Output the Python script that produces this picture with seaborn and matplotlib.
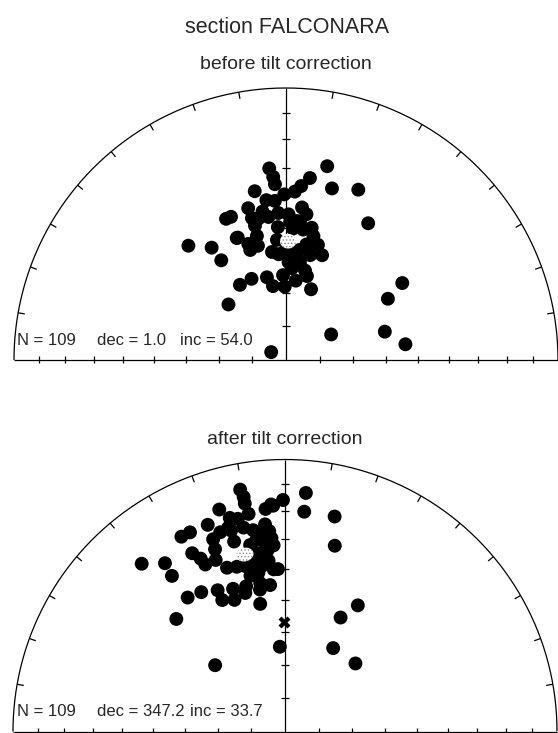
import numpy as np
import pandas as pd
import matplotlib
matplotlib.use('Agg')
import matplotlib.pyplot as plt
import seaborn as sns

sns.set_style('white')
plt.rcParams['font.family'] = ['Liberation Sans', 'DejaVu Sans']
plt.rcParams['hatch.linewidth'] = 0.6

# site mean directions (declination / inclination, degrees)
dec_before = [355, 356, 356.4, 12, 7.5, 5, 3, 15, 23, 349.5, 359.4, 353, 356, 346, 6, 8,
              339, 337, 31, 319.5, 326.5, 327, 338, 342, 342, 19, 328.5, 337, 347, 350,
              358, 359, 7, 14, 19.5, 314, 56.5, 59, 74, 60.5, 82.5, 298, 349, 353, 357,
              1, 4.5, 347, 346.8, 346.2, 352.6, 7.5, 11, 12.5, 10, 13, 4, 1.5, 7, 12,
              338.5, 356.5, 3, 356, 359.5, 351, 3.7, 7, 355.7,
              1.7, 5.8, 15.5, 8.1, 346.5]
inc_before = [30, 33, 35.5, 28, 33, 36, 38, 35, 32.5, 37, 39, 40.5, 41, 42, 43, 45,
              43, 43, 41, 44, 49, 54, 50, 53, 55, 56.5, 63.5, 63.5, 64.5, 67.5,
              64.5, 68, 66, 64, 67.5, 66, 47.5, 54, 59, 74.5, 53.5, 85, 46, 46, 45,
              45.5, 47.5, 48, 51.3, 54.4, 57.1, 50, 49, 51.5, 54.5, 57.5, 57.5, 60.5, 60, 62.5,
              50, 49.5, 50, 58, 57, 44, 62.3, 56.5, 53.5,
              47.9, 47.7, 53.8, 60.2, 45.4]

dec_after = [5, 359.5, 357, 5, 13, 15, 30, 26, 30, 46, 356.5, 357.5, 356, 356.5, 355.5,
             349.5, 350, 350, 356.5, 355, 343.5, 350.5, 345.5, 347.5, 339.5, 354.5,
             334.5, 332, 332.5, 334, 334.5, 319.5, 324.5, 324, 324, 329, 334.5, 334.5,
             340, 339, 344, 350, 349, 316, 313.5,
             342, 345, 348.5, 351, 353.5, 339.5, 339, 338, 340.5, 343.7, 346.5, 349,
             352.5, 354.5, 354, 351.5, 345, 350.5, 350.5, 347.5, 345, 354.5, 356,
             352, 354.5, 349.4, 344.4, 354.2, 350.8]
inc_after = [13, 16, 18, 20, 20, 30, 45.5, 51.5, 61, 60.5, 64.5, 40, 40, 32, 27,
             10.5, 13.5, 16, 17.5, 19, 16, 20, 20, 21, 20, 24.5,
             20, 20, 27, 30, 32.5, 20, 25, 30, 39, 40, 42, 45.5,
             43.5, 47, 46, 46, 50.5, 42, 61,
             24, 24.5, 24.5, 26, 27.5, 25.5, 29, 32.5, 36.3, 37, 37.5, 37,
             35.5, 33.5, 31, 29.5, 28.5, 40.5, 44, 41, 44, 28.5, 29.5,
             38.5, 37, 30.9, 23.3, 45, 33.9]

n_sites = 109
mean_before = (1.0, 54.0)
mean_after = (347.2, 33.7)
a95 = 2.3
cross_after = (359.5, 57.0)


def eqarea(dec, inc):
    d = np.radians(np.asarray(dec, float))
    r = np.sqrt(2) * np.sin(np.radians(90 - np.asarray(inc, float)) / 2)
    return r * np.sin(d), r * np.cos(d)


def cone(dec, inc, a, n=120):
    d, i = np.radians(dec), np.radians(inc)
    m = np.array([np.cos(i) * np.cos(d), np.cos(i) * np.sin(d), np.sin(i)])
    u = np.array([-np.sin(i) * np.cos(d), -np.sin(i) * np.sin(d), np.cos(i)])
    v = np.cross(m, u)
    t = np.linspace(0, 2 * np.pi, n)
    a = np.radians(a)
    p = np.cos(a) * m[:, None] + np.sin(a) * (np.cos(t) * u[:, None] + np.sin(t) * v[:, None])
    return eqarea(np.degrees(np.arctan2(p[1], p[0])), np.degrees(np.arcsin(p[2])))


def draw_net(ax):
    kw = dict(color='k', lw=0.9, clip_on=False, solid_capstyle='butt')
    t = np.linspace(0, np.pi, 400)
    ax.plot(np.cos(t), np.sin(t), **kw)
    ax.plot([-1, 1], [0, 0], **kw)
    ax.plot([0, 0], [0, 1], **kw)
    tick_r = np.sqrt(2) * np.sin(np.radians(90 - np.arange(10, 90, 10)) / 2)
    for r in tick_r:
        for s in (-1, 1):
            ax.plot([s * r, s * r], [-0.012, 0.014], **kw)
        ax.plot([-0.014, 0.014], [r, r], **kw)
    for a in range(-80, 90, 10):
        if a == 0:
            continue
        th = np.radians(a)
        ax.plot([np.sin(th), 0.975 * np.sin(th)], [np.cos(th), 0.975 * np.cos(th)], **kw)
    ax.set_xlim(-1, 1)
    ax.set_ylim(0, 1)
    ax.axis('off')


W, H = 558, 733
R = 272
fig = plt.figure(figsize=(W / 100, H / 100), dpi=100)

panels = [
    (286, 360, dec_before, inc_before, mean_before, None, 345, 'before tilt correction', 69),
    (285, 731.5, dec_after, inc_after, mean_after, cross_after, 716.5, 'after tilt correction', 444),
]

for cx, cy, decs, incs, mean, cross, ty, sub, sy in panels:
    ax = fig.add_axes([(cx - R) / W, (H - cy) / H, 2 * R / W, R / H])
    draw_net(ax)
    x, y = eqarea(decs, incs)
    df = pd.DataFrame({'x': x, 'y': y})
    sns.scatterplot(data=df, x='x', y='y', ax=ax, color='k', s=100, edgecolor='none',
                    legend=False, clip_on=False, zorder=3)
    ex, ey = cone(mean[0], mean[1], a95)
    ax.fill(ex, ey, facecolor='white', edgecolor='#8a8a8a', hatch='.....', lw=0, zorder=5)
    if cross is not None:
        px, py = eqarea([cross[0]], [cross[1]])
        ax.plot(px, py, marker='X', color='k', ms=9, mec='none', zorder=4, clip_on=False)
    ax.set_xlabel('')
    ax.set_ylabel('')
    fig.text(17 / W, 1 - ty / H, f'N = {n_sites}', fontsize=12, ha='left', va='baseline')
    fig.text(97 / W, 1 - ty / H, f'dec = {mean[0]:.1f}', fontsize=12, ha='left', va='baseline')
    fig.text((180 if cross is None else 190) / W, 1 - ty / H, f'inc = {mean[1]:.1f}',
             fontsize=12, ha='left', va='baseline')
    fig.text(cx / W, 1 - sy / H, sub, fontsize=14, ha='center', va='baseline')

fig.text(287 / W, 1 - 33 / H, 'section FALCONARA', fontsize=15.5, ha='center', va='baseline')

fig.savefig('out.png', dpi=100)
